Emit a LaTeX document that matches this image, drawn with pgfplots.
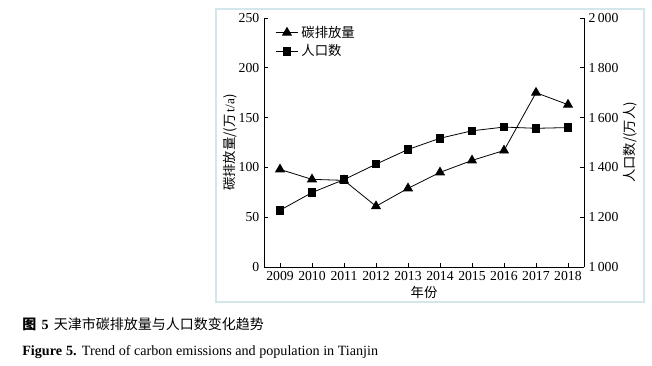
\documentclass[border=0pt]{standalone}
\usepackage{pgfplots}
\pgfplotsset{compat=1.18}
\usepackage{fontspec}
\setmainfont{Liberation Serif}
\newfontfamily\cjk{Noto Sans CJK SC}
\definecolor{framec}{HTML}{D3E6EC}
\begin{document}
\begin{tikzpicture}
\path[use as bounding box] (0,0) rectangle (489pt,273.75pt);
\draw[framec, line width=0.8pt] (162pt,47.25pt) rectangle (483pt,267pt);
\pgfplotsset{
  base/.style={
    scale only axis, width=240pt, height=186.75pt,
    at={(198pt,73.5pt)}, anchor=south west,
    xmin=2008.5, xmax=2018.5,
    tick align=inside,
    major tick length=3pt,
    tick style={black, line width=0.5pt},
    axis line style={black, line width=0.6pt},
    ticklabel style={font=\fontsize{10.3}{12}\selectfont},
    /pgf/number format/assume math mode=true,
    /pgf/number format/1000 sep={\,},
    label style={font=\cjk\fontsize{10}{12}\selectfont},
  }
}
\begin{axis}[base,
  axis x line*=bottom, axis y line*=left,
  xtick={2009,...,2018},
  xticklabel style={/pgf/number format/1000 sep={}},
  ymin=0, ymax=250, ytick={0,50,...,250},
  xlabel={年份},
  xlabel style={at={(axis description cs:0.5,-0.104)}, anchor=center},
  ylabel={碳排放量/(万\,{\rmfamily t/a})},
  ylabel style={at={(axis description cs:-0.106,0.5)}, anchor=center, rotate=0},
  legend style={draw=none, fill=none, at={(0.03,0.985)}, anchor=north west,
    font=\cjk\fontsize{10}{12}\selectfont, row sep=0pt,
    inner sep=1pt},
  legend cell align=left,
]
\addplot[black, line width=0.6pt, mark=triangle*, mark size=3.8pt, mark options={solid, fill=black}]
coordinates {(2009,98) (2010,88) (2011,87) (2012,61) (2013,79) (2014,95) (2015,107) (2016,117) (2017,175) (2018,163)};
\addlegendentry{碳排放量}
\addlegendimage{black, line width=0.6pt, mark=square*, mark size=2.8pt, mark options={solid, fill=black}}
\addlegendentry{人口数}
\end{axis}
\begin{axis}[base,
  axis x line=none, axis y line*=right,
  ymin=1000, ymax=2000, ytick={1000,1200,...,2000},
  ylabel={人口数/(万人)},
  ylabel style={at={(axis description cs:1.144,0.5)}, anchor=center, rotate=0},
]
\addplot[black, line width=0.6pt, mark=square*, mark size=2.8pt, mark options={solid, fill=black}]
coordinates {(2009,1228) (2010,1299) (2011,1351) (2012,1413) (2013,1472) (2014,1517) (2015,1547) (2016,1562) (2017,1557) (2018,1560)};
\end{axis}
\node[anchor=west, inner sep=0pt] at (16.5pt,30.75pt) {\fontsize{10.5}{12}\selectfont{\cjk\bfseries 图}\hspace{4pt}\textbf{5}\hspace{4pt}{\cjk 天津市碳排放量与人口数变化趋势}};
\node[anchor=west, inner sep=0pt] at (16.5pt,9.75pt) {\fontsize{10.6}{13}\selectfont\textbf{Figure\hspace{3pt}5.}\hspace{4pt}Trend of carbon emissions and population in Tianjin};
\end{tikzpicture}
\end{document}
